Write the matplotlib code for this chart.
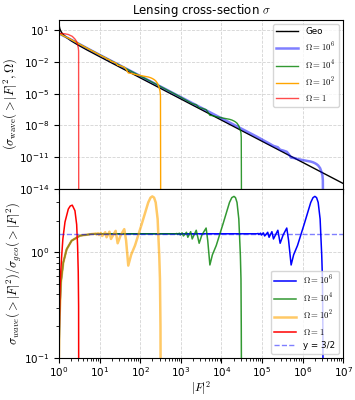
import matplotlib
matplotlib.use("Agg")
import matplotlib.pyplot as plt
import numpy as np

plt.rcParams['mathtext.fontset'] = 'cm'

# geometric cross-section (top panel)
geo_x = [1.021, 1.05, 1.1, 1.2, 1.5, 2, 3, 5, 10, 100, 1e4, 1e7]
geo_y = [25, 14.3, 8.8, 5.09, 2.15, 0.972, 0.381, 0.1295, 0.0317, 3.14e-4, 3.14e-8, 3.14e-14]

# wave cross-section (top panel)
red_top_x = [1.0, 1.1, 1.2, 1.41, 1.7, 2.13, 2.48, 2.73, 2.88, 2.99, 3.05, 3.07]
red_top_y = [4.9, 4.9, 4.8, 4.5, 3.9, 2.6, 1.45, 0.84, 0.42, 0.23, 0.11, 1e-16]

orange_top_x = [1.0, 1.04, 1.12, 1.28, 1.55, 2.05, 3.3, 6.3, 8.5, 11.6, 13.8, 14.9, 17.5,
                19.1, 24.9, 27.9, 33, 40.6, 45, 50.9, 60, 74.5, 109, 158, 180, 199, 220,
                241, 269, 279, 295, 307, 316, 320]
orange_top_y = [5.5, 4.1, 4.0, 3.0, 2.08, 1.2, 0.45, 0.119, 0.065, 0.0334, 0.0256, 0.0197,
                0.0161, 0.01154, 0.0081, 0.00492, 0.00418, 0.00316, 0.00202, 0.00091,
                0.00083, 0.000657, 0.000489, 0.000374, 0.00032, 0.000269, 0.000214,
                0.000161, 9.0e-5, 6.06e-5, 3.36e-5, 1.87e-5, 6.3e-6, 1e-16]

green_top_x = [1.0, 1.04, 1.12, 1.28, 1.55, 2.05, 3.3, 6.3, 10, 100, 750, 1160, 1490, 1910,
               2400, 2830, 3300, 4200, 4600, 5200, 6000, 7450, 10900, 15800, 18000, 20400,
               22200, 24200, 26800, 27800, 29300, 30300, 30800, 31200]
green_top_y = [5.5, 4.1, 4.0, 3.0, 2.08, 1.2, 0.45, 0.119, 0.047, 4.7e-4, 8.4e-6, 3.34e-6,
               1.97e-6, 1.15e-6, 8.8e-7, 4.8e-7, 4.2e-7, 3.03e-7, 1.93e-7, 8.8e-8, 8.3e-8,
               6.6e-8, 4.9e-8, 3.74e-8, 3.2e-8, 2.56e-8, 2.1e-8, 1.59e-8, 9.0e-9, 6.1e-9,
               3.4e-9, 1.9e-9, 6.6e-10, 1e-16]

blue_top_x = [1.0, 1.04, 1.12, 1.28, 1.55, 2.05, 3.3, 6.3, 10, 1000, 7.5e4, 1.16e5, 1.49e5,
              1.91e5, 2.45e5, 2.79e5, 3.3e5, 4.06e5, 4.5e5, 5.2e5, 6e5, 7.45e5, 1.09e6,
              1.58e6, 1.8e6, 2.0e6, 2.2e6, 2.41e6, 2.69e6, 2.79e6, 2.95e6, 3.07e6, 3.14e6,
              3.18e6]
blue_top_y = [5.5, 4.1, 4.0, 3.0, 2.08, 1.2, 0.45, 0.119, 0.047, 4.7e-6, 8.4e-10, 3.34e-10,
              1.97e-10, 1.15e-10, 8.5e-11, 4.9e-11, 4.2e-11, 3.2e-11, 2.0e-11, 8.8e-12,
              8.3e-12, 6.6e-12, 4.9e-12, 3.74e-12, 3.2e-12, 2.66e-12, 2.14e-12, 1.61e-12,
              9.0e-13, 6.06e-13, 3.36e-13, 1.87e-13, 6.4e-14, 1e-16]

# ratio wave / geo (bottom panel)
red_x = [1.0, 1.03, 1.06, 1.1, 1.17, 1.25, 1.41, 1.7, 1.9, 2.13, 2.48, 2.73, 2.88, 2.99,
         3.05, 3.07]
red_y = [0.12, 0.25, 0.45, 0.62, 0.93, 1.34, 1.94, 2.57, 2.75, 2.8, 2.48, 1.84, 1.15, 0.65,
         0.31, 0.05]

orange_x = [1.0, 1.04, 1.12, 1.28, 1.55, 2.05, 3.3, 6.3, 7.5, 8.0, 8.3, 9.2, 9.7, 10.8,
            11.6, 13.8, 14.9, 17.5, 19.1, 24.9, 27.9, 33, 40.6, 45, 50.9, 60, 74.5, 109,
            158, 180, 199, 220, 241, 269, 279, 295, 307, 316, 320]
orange_y = [0.1, 0.25, 0.52, 0.8, 1.07, 1.29, 1.44, 1.49, 1.5, 1.51, 1.48, 1.52, 1.46, 1.53,
            1.43, 1.55, 1.39, 1.57, 1.34, 1.6, 1.22, 1.45, 1.66, 1.3, 0.75, 0.95, 1.16, 1.85,
            2.97, 3.3, 3.39, 3.3, 2.97, 2.07, 1.5, 0.93, 0.56, 0.2, 0.05]

green_x = [1.0, 1.04, 1.12, 1.28, 1.55, 2.05, 3.3, 6.3, 20, 200, 750, 800, 830, 920, 970,
           1080, 1160, 1380, 1490, 1750, 1910, 2400, 2830, 3300, 4200, 4600, 5200, 6000,
           7450, 10900, 15800, 18000, 20400, 22200, 24200, 26800, 27800, 29300, 30300,
           30800, 31200]
green_y = [0.1, 0.25, 0.52, 0.8, 1.07, 1.29, 1.44, 1.49, 1.5, 1.5, 1.5, 1.51, 1.48, 1.52,
           1.46, 1.53, 1.43, 1.55, 1.39, 1.57, 1.34, 1.62, 1.22, 1.46, 1.7, 1.3, 0.76, 0.95,
           1.16, 1.85, 2.97, 3.3, 3.39, 3.3, 2.97, 2.07, 1.5, 0.93, 0.56, 0.2, 0.05]

blue_x = [1.0, 1.04, 1.12, 1.28, 1.55, 2.05, 3.3, 6.3, 20, 2e4, 7.5e4, 8e4, 8.3e4, 9.2e4,
          9.7e4, 1.08e5, 1.16e5, 1.38e5, 1.49e5, 1.75e5, 1.91e5, 2.45e5, 2.79e5, 3.3e5,
          4.06e5, 4.5e5, 5.2e5, 6e5, 7.45e5, 1.09e6, 1.58e6, 1.8e6, 2.0e6, 2.2e6, 2.41e6,
          2.69e6, 2.79e6, 2.95e6, 3.07e6, 3.14e6, 3.18e6]
blue_y = [0.1, 0.25, 0.52, 0.8, 1.07, 1.29, 1.44, 1.49, 1.5, 1.5, 1.5, 1.51, 1.48, 1.52,
          1.46, 1.53, 1.43, 1.55, 1.39, 1.57, 1.34, 1.62, 1.22, 1.46, 1.7, 1.3, 0.76, 0.95,
          1.16, 1.85, 2.97, 3.3, 3.39, 3.3, 2.97, 2.07, 1.5, 0.93, 0.56, 0.2, 0.05]

fig, (ax1, ax2) = plt.subplots(2, 1, sharex=True, figsize=(3.55, 4), dpi=100)
fig.subplots_adjust(left=0.166, right=0.967, top=0.951, bottom=0.105, hspace=0)

# top panel
ax1.plot(geo_x, geo_y, color='k', lw=1, label='Geo')
ax1.plot(blue_top_x, blue_top_y, color='b', lw=1.8, alpha=0.5, label=r'$\Omega = 10^6$')
ax1.plot(green_top_x, green_top_y, color='g', lw=1, alpha=0.8, label=r'$\Omega = 10^4$')
ax1.plot(orange_top_x, orange_top_y, color='orange', lw=1, label=r'$\Omega = 10^2$')
ax1.plot(red_top_x, red_top_y, color='r', lw=1, alpha=0.7, label=r'$\Omega = 1$')
ax1.set_xscale('log')
ax1.set_yscale('log')
ax1.set_ylim(1e-14, 1e2)
ax1.set_yticks([1e1, 1e-2, 1e-5, 1e-8, 1e-11, 1e-14])
ax1.yaxis.set_minor_locator(matplotlib.ticker.NullLocator())
ax1.set_ylabel(r'$(\sigma_{\rm wave}(>|F|^2,\Omega)$', fontsize=9, labelpad=0)
ax1.set_title(r'Lensing cross-section $\sigma$', fontsize=8.5, pad=4)
ax1.grid(ls='--', color='lightgray', lw=0.6)
ax1.legend(loc='upper right', fontsize=6.3, handlelength=2.5)
ax1.tick_params(labelsize=7.5)

# bottom panel
ax2.plot(blue_x, blue_y, color='b', lw=1.1, label=r'$\Omega = 10^6$')
ax2.plot(green_x, green_y, color='g', lw=1.1, alpha=0.8, label=r'$\Omega = 10^4$')
ax2.plot(orange_x, orange_y, color='orange', lw=1.8, alpha=0.6, label=r'$\Omega = 10^2$')
ax2.plot(red_x, red_y, color='r', lw=1.1, label=r'$\Omega = 1$')
ax2.axhline(1.5, color='b', ls='--', lw=1, alpha=0.5, label='y = 3/2')
ax2.set_xscale('log')
ax2.set_yscale('log')
ax2.set_xlim(1, 1e7)
ax2.set_ylim(0.1, 4)
ax2.set_xticks([10.0**k for k in range(8)])
ax2.set_xlabel(r'$|F|^2$', fontsize=8.5, labelpad=0)
ax2.set_ylabel(r'$\sigma_{wave}(>|F|^2)/\sigma_{geo}(>|F|^2)$', fontsize=9, labelpad=0)
ax2.grid(ls='--', color='lightgray', lw=0.6)
ax2.legend(loc='lower right', fontsize=6.3, handlelength=2.5)
ax2.tick_params(labelsize=7.5)
ax2.tick_params(axis='x', pad=2)

plt.savefig("out.png", dpi=100)
